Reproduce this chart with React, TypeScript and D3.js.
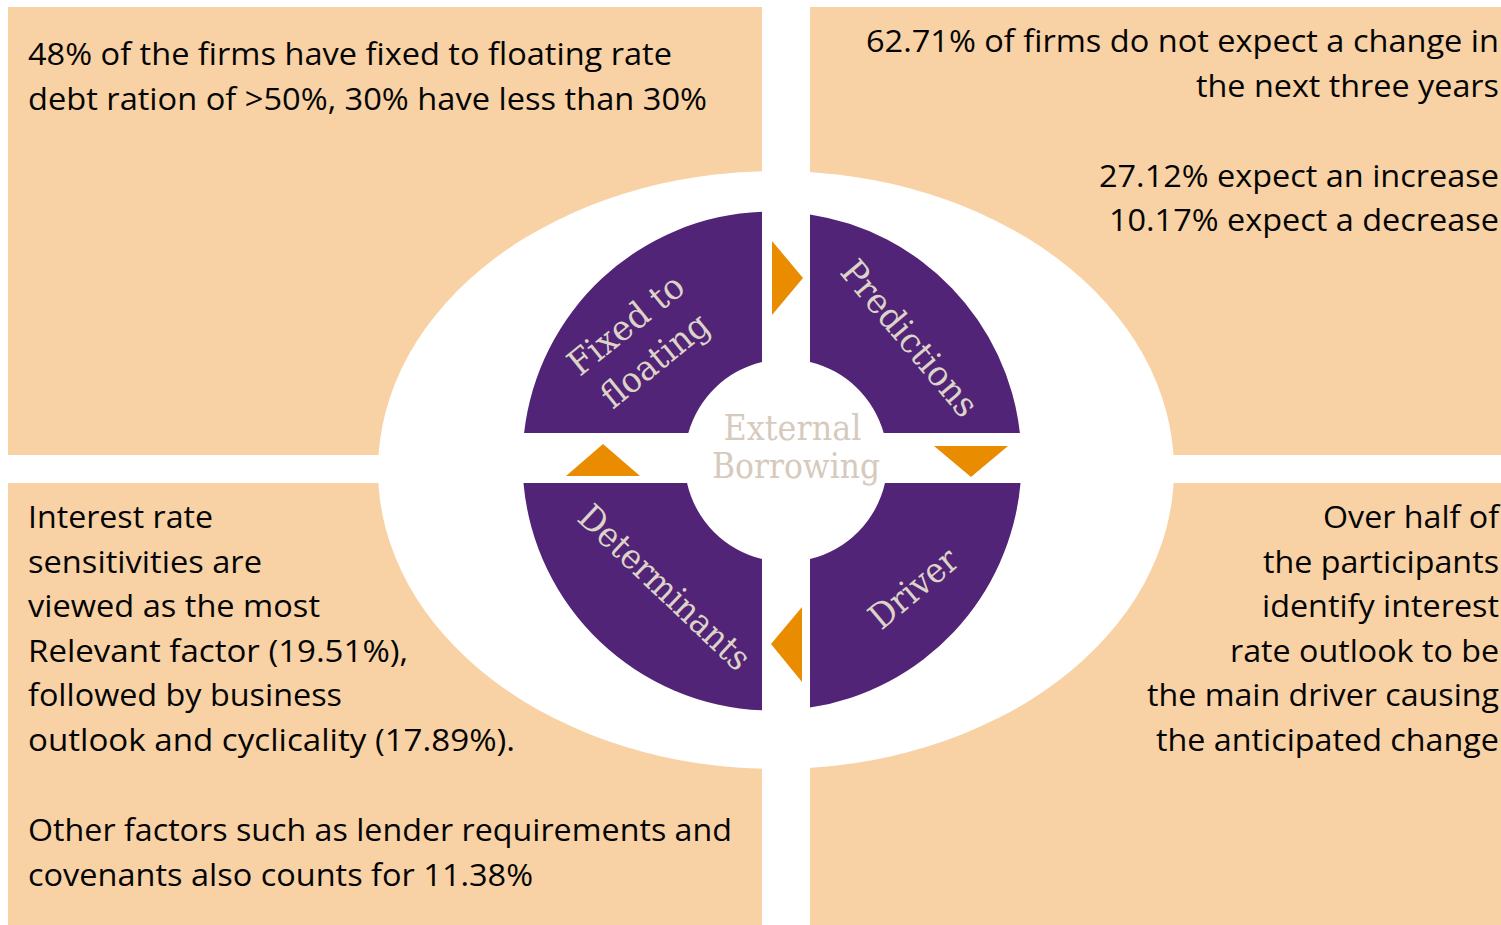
import React from "react";
import * as d3 from "d3";

const W = 1501;
const H = 925;

// ---------- content ----------
const centerTitle = ["External", "Borrowing"];
const stageFixed = ["Fixed to", "floating"];
const stagePredictions = ["Predictions"];
const stageDriver = ["Driver"];
const stageDeterminants = ["Determinants"];

const fixedNotes = [
  "48% of the firms have fixed to floating rate",
  "debt ration of >50%, 30% have less than 30%",
];
const predictionNotes = [
  "62.71% of firms do not expect a change in",
  "the next three years",
  "27.12% expect an increase",
  "10.17% expect a decrease",
];
const determinantNotes = [
  "Interest rate",
  "sensitivities are",
  "viewed as the most",
  "Relevant factor (19.51%),",
  "followed by business",
  "outlook and cyclicality (17.89%).",
  "Other factors such as lender requirements and",
  "covenants also counts for 11.38%",
];
const driverNotes = [
  "Over half of",
  "the participants",
  "identify interest",
  "rate outlook to be",
  "the main driver causing",
  "the anticipated change",
];

// ---------- layout / style ----------
const PEACH = "#F8D2A4";
const PURPLE = "#512477";
const ORANGE = "#EA8C00";
const LABEL = "#DDD3C8";
const CENTER_TXT = "#D6CABD";
const BODY_FONT = "'Open Sans', 'Noto Sans', sans-serif";
const SERIF = "'DejaVu Serif', 'Liberation Serif', serif";

const panels = [
  { x: 8, y: 7, w: 754, h: 448 },
  { x: 810, y: 7, w: 691, h: 448 },
  { x: 8, y: 483, w: 754, h: 442 },
  { x: 810, y: 483, w: 691, h: 442 },
];
const ellipse = { cx: 776, cy: 470, rx: 398, ry: 299 };
const OUTER = { cx: 772, cy: 461, r: 249.5 };
const INNER = { cx: 786, cy: 460.5, r: 101.5 };
const GAP = { x0: 762, x1: 810, y0: 433, y1: 483 };

const noteBlocks = [
  { lines: fixedNotes, anchor: "start", x: 28, base: [65, 110], widths: [644, 679] },
  { lines: predictionNotes, anchor: "end", x: 1499, base: [52, 97, 187, 231], widths: [633, 303, 400, 390] },
  {
    lines: determinantNotes,
    anchor: "start",
    x: 28,
    base: [528, 573, 617, 662, 706, 751, 841, 886],
    widths: [185, 234, 292, 380, 314, 487, 704, 505],
  },
  {
    lines: driverNotes,
    anchor: "end",
    x: 1499,
    base: [528, 573, 617, 662, 706, 751],
    widths: [176, 236, 237, 269, 352, 343],
  },
];

const ringLabels = [
  { lines: stageFixed, cx: 640, cy: 342, angle: -39, widths: [138, 128] },
  { lines: stagePredictions, cx: 910, cy: 338, angle: 50, widths: [192] },
  { lines: stageDriver, cx: 913, cy: 588, angle: -40, widths: [104] },
  { lines: stageDeterminants, cx: 665, cy: 587, angle: 43.5, widths: [222] },
];

const arrows: [number, number][][] = [
  [[772, 241], [803, 278], [772, 315]],
  [[934, 446], [1008, 446], [971, 477]],
  [[802, 607], [802, 682], [771, 644]],
  [[566, 476], [640, 476], [603, 444]],
];

function quadrantPath(sx: number, sy: number): string {
  const xe = sx < 0 ? GAP.x0 : GAP.x1;
  const ye = sy < 0 ? GAP.y0 : GAP.y1;
  const ax = OUTER.cx + sx * Math.sqrt(OUTER.r ** 2 - (ye - OUTER.cy) ** 2);
  const by = OUTER.cy + sy * Math.sqrt(OUTER.r ** 2 - (xe - OUTER.cx) ** 2);
  const cy2 = INNER.cy + sy * Math.sqrt(INNER.r ** 2 - (xe - INNER.cx) ** 2);
  const dx2 = INNER.cx + sx * Math.sqrt(INNER.r ** 2 - (ye - INNER.cy) ** 2);
  const aA = Math.atan2(ye - OUTER.cy, ax - OUTER.cx);
  const aB = Math.atan2(by - OUTER.cy, xe - OUTER.cx);
  const aC = Math.atan2(cy2 - INNER.cy, xe - INNER.cx);
  const aD = Math.atan2(ye - INNER.cy, dx2 - INNER.cx);
  const ccw = sx * sy < 0;
  const p = d3.path();
  p.moveTo(ax, ye);
  p.arc(OUTER.cx, OUTER.cy, OUTER.r, aA, aB, ccw);
  p.lineTo(xe, cy2);
  p.arc(INNER.cx, INNER.cy, INNER.r, aC, aD, !ccw);
  p.closePath();
  return p.toString();
}

const quadrants: [number, number][] = [
  [-1, -1],
  [1, -1],
  [1, 1],
  [-1, 1],
];

const triangle = d3.line();

export default function App() {
  const lineGap = 46;
  return (
    <svg
      width={W}
      height={H}
      viewBox={`0 0 ${W} ${H}`}
      style={{ position: "absolute", left: 0, top: 0, display: "block", background: "#fff" }}
    >
      <rect x={0} y={0} width={W} height={H} fill="#fff" />
      {panels.map((p, i) => (
        <rect key={i} x={p.x} y={p.y} width={p.w} height={p.h} fill={PEACH} />
      ))}
      <ellipse cx={ellipse.cx} cy={ellipse.cy} rx={ellipse.rx} ry={ellipse.ry} fill="#fff" />

      {noteBlocks.map((b, bi) => (
        <g key={bi} fontFamily={BODY_FONT} fontSize={31} fill="#050505" textAnchor={b.anchor}>
          {b.lines.map((t, i) => (
            <text
              key={i}
              x={b.x}
              y={b.base[i]}
              textLength={b.widths[i]}
              lengthAdjust="spacingAndGlyphs"
            >
              {t}
            </text>
          ))}
        </g>
      ))}

      {quadrants.map(([sx, sy], i) => (
        <path key={i} d={quadrantPath(sx, sy)} fill={PURPLE} />
      ))}

      {arrows.map((pts, i) => (
        <path key={i} d={(triangle(pts) || "") + "Z"} fill={ORANGE} />
      ))}

      {ringLabels.map((l, i) => (
        <g key={i} transform={`translate(${l.cx},${l.cy}) rotate(${l.angle})`}>
          {l.lines.map((t, j) => (
            <text
              key={j}
              x={0}
              y={(j - (l.lines.length - 1) / 2) * lineGap}
              dy="0.36em"
              textAnchor="middle"
              fontFamily={SERIF}
              fontSize={35}
              fill={LABEL}
              textLength={l.widths[j]}
              lengthAdjust="spacingAndGlyphs"
            >
              {t}
            </text>
          ))}
        </g>
      ))}

      <g fontFamily={SERIF} fontSize={36} fill={CENTER_TXT} textAnchor="middle">
        <text x={792.5} y={439.5} textLength={138} lengthAdjust="spacingAndGlyphs">
          {centerTitle[0]}
        </text>
        <text x={796} y={478} textLength={168} lengthAdjust="spacingAndGlyphs">
          {centerTitle[1]}
        </text>
      </g>
    </svg>
  );
}
